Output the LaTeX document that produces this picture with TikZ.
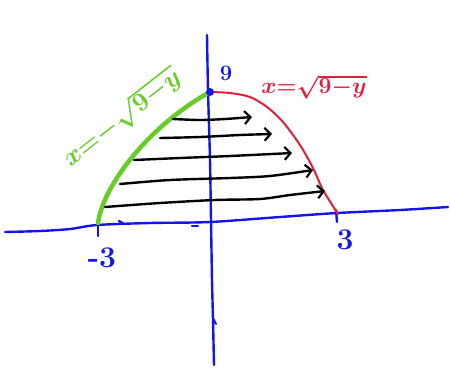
\RequirePackage{fix-cm}
\documentclass[tikz,border=0pt]{standalone}
\usetikzlibrary{arrows.meta}
\definecolor{axisblue}{RGB}{20,20,235}
\definecolor{curvegreen}{RGB}{105,205,40}
\definecolor{curvered}{RGB}{225,30,60}
\tikzset{
  axis/.style={draw=axisblue, line width=2.4pt, line cap=round, line join=round},
  greencurve/.style={draw=curvegreen, line width=4.5pt, line cap=round},
  redcurve/.style={draw=curvered, line width=2pt, line cap=round},
  flowarrow/.style={draw=black, line width=2.4pt, line cap=round, -{Straight Barb[length=6pt,width=13pt,line width=2.2pt]}},
  bluelabel/.style={text=axisblue, font=\fontsize{30}{30}\selectfont\bfseries},
  glabel/.style={text=curvegreen, font=\fontsize{26}{26}\selectfont\boldmath},
  rlabel/.style={text=curvered, font=\fontsize{23}{23}\selectfont\boldmath}
}
\begin{document}
\begin{tikzpicture}[x=1pt,y=-1pt]
\useasboundingbox (0,0) rectangle (450,368);
% axes
\draw[axis] plot[smooth] coordinates {(5,232) (40,231) (70,229) (97,225) (150,223) (210,222) (280,217) (337,213) (400,210) (448,207)};
\draw[axis] plot[smooth] coordinates {(207,35) (208,90) (210,160) (211,220) (212,280) (213,320) (214,365)};
\draw[axis, line width=1.8pt] (213,318) -- (216,324);
% ticks
\draw[axis] (98,224) -- (98,236);
\draw[axis] (336,210) -- (337,222);
\draw[axis, line width=2.4pt] (119,221) -- (124,224);
\draw[axis, line width=2.4pt] (192,226) -- (198,226);
% labels
\node[bluelabel] (mthree) at (102,258) {-3};
\node[bluelabel] (three) at (345,240) {3};
\node[text=axisblue, font=\fontsize{22}{22}\selectfont\bfseries] (nine) at (226,73) {9};
% curves
\draw[greencurve] (98,223) .. controls (103,185) and (150,125) .. (210,92);
\draw[redcurve] plot[smooth] coordinates {(210,92) (230,93) (250,97) (267,107) (283,122) (300,145) (313,168) (323,190) (338,214)};
\fill[axisblue] (210,92) circle (4pt);
% curve labels
\node[glabel, rotate=38] (gl) at (122,118) {$x{=}{-}\sqrt{9{-}y}$};
\node[rlabel] (rl) at (314,87) {$x{=}\sqrt{9{-}y}$};
% arrows
\draw[flowarrow] plot[smooth] coordinates {(173,119) (200,120) (225,119) (252,117)};
\draw[flowarrow] plot[smooth] coordinates {(160,138) (200,137) (240,135) (272,134)};
\draw[flowarrow] plot[smooth] coordinates {(134,160) (180,158) (230,156) (292,153)};
\draw[flowarrow] plot[smooth] coordinates {(120,184) (170,180) (230,178) (270,176) (313,170)};
\draw[flowarrow] plot[smooth] coordinates {(105,207) (160,203) (215,200) (260,199) (290,195) (325,191)};
\end{tikzpicture}
\end{document}
